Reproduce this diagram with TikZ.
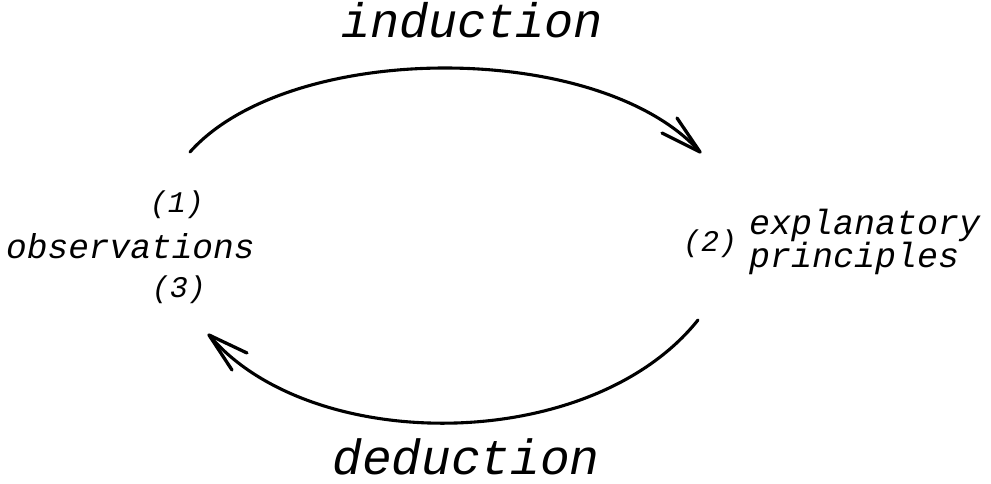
\documentclass[tikz,border=0pt]{standalone}
\usepackage{fontspec}
\newfontfamily\cour{Liberation Mono}
\begin{document}
\begin{tikzpicture}[x=1pt,y=-1pt,
  arc/.style={line width=3.1pt,line cap=round},
  barb/.style={line width=3.3pt,line cap=round,line join=round},
  lbl/.style={inner sep=0pt,font=\cour\itshape}]
\useasboundingbox (0,0) rectangle (991,484);
\node[lbl,font=\cour\itshape\fontsize{48.5}{48}\selectfont,anchor=base] (ind) at (472,38) {induction};
\node[lbl,font=\cour\itshape\fontsize{49.5}{48}\selectfont,anchor=base] (ded) at (466,474) {deduction};
\node[lbl,font=\cour\itshape\fontsize{34.5}{33}\selectfont,anchor=base west] (obs) at (6,258) {observations};
\node[lbl,font=\cour\itshape\fontsize{30}{30}\selectfont] (one) at (177,205) {(1)};
\node[lbl,font=\cour\itshape\fontsize{30}{30}\selectfont] (three) at (179,290) {(3)};
\node[lbl,font=\cour\itshape\fontsize{35}{35}\selectfont,anchor=base west,text depth=0pt] (exp) at (749,234) {explanatory};
\node[lbl,font=\cour\itshape\fontsize{35}{35}\selectfont,anchor=base west,text height=20pt] (pri) at (749,267) {principles};
\node[lbl,font=\cour\itshape\fontsize{30}{30}\selectfont] (two) at (710,244) {(2)};
\coordinate (a1) at (190,152);
\coordinate (a2) at (700,152);
\coordinate (a3) at (677,118);
\coordinate (a4) at (662,133);
\coordinate (b1) at (698,320);
\coordinate (b2) at (209,335);
\coordinate (b3) at (247,353);
\coordinate (b4) at (232,370);
\draw[arc] (a1) .. controls (290,40) and (600,40) .. (a2);
\draw[arc] (b1) .. controls (590,455) and (310,455) .. (b2);
\draw[barb] (a3) -- (a2) -- (a4);
\draw[barb] (b3) -- (b2) -- (b4);
\end{tikzpicture}
\end{document}
